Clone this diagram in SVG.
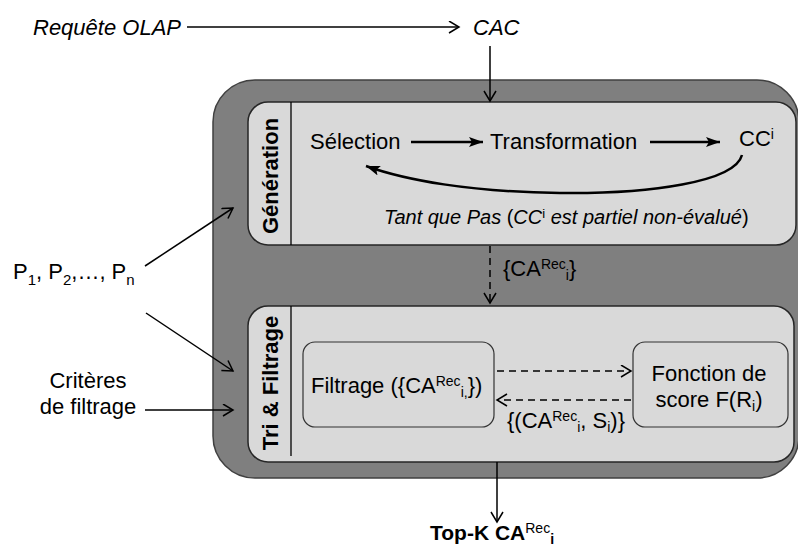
<svg xmlns="http://www.w3.org/2000/svg" width="798" height="546" viewBox="0 0 798 546">
<defs>
<marker id="open" markerUnits="userSpaceOnUse" markerWidth="14" markerHeight="14" refX="11" refY="6.5" orient="auto"><path d="M1,0.5 L11,6.5 L1,12.5" fill="none" stroke="#000" stroke-width="1.5"/></marker>
<marker id="solid" markerUnits="userSpaceOnUse" markerWidth="16" markerHeight="12" refX="14" refY="5" orient="auto"><path d="M0,0 L14,5 L0,10 L3,5 Z" fill="#000"/></marker>
</defs>
<style>
text{font-family:"Liberation Sans",Arial,sans-serif;fill:#000;font-size:22px}
.it{font-style:italic}
.b{font-weight:bold}
.panel{fill:#d9d9d9;stroke:#262626;stroke-width:1.5}
.inner{fill:#d9d9d9;stroke:#333;stroke-width:1.2}
.ln{stroke:#000;stroke-width:1.5;fill:none}
.thick{stroke:#000;stroke-width:2.5;fill:none}
.dash{stroke:#000;stroke-width:1.5;fill:none;stroke-dasharray:7 5}
.sup{font-size:14px}
</style>
<g id="outer">
<rect x="213" y="80" width="586" height="398" rx="42" fill="#7f7f7f" stroke="#404040" stroke-width="1.5"/>
</g>
<g id="generation">
<rect class="panel" x="248" y="102" width="548" height="143" rx="20"/>
<line x1="291" y1="102" x2="291" y2="245" stroke="#000" stroke-width="1.3"/>
<text class="b" text-anchor="middle" transform="translate(278,176) rotate(-90)">Génération</text>
</g>
<g id="tri">
<rect class="panel" x="248" y="306" width="546" height="156" rx="20"/>
<line x1="291" y1="306" x2="291" y2="456" stroke="#000" stroke-width="1.3"/>
<text class="b" text-anchor="middle" transform="translate(278,383) rotate(-90)">Tri &amp; Filtrage</text>
</g>
<g id="requete"><text class="it" x="33" y="35">Requête OLAP</text></g>
<g id="cac"><text class="it" x="473" y="35">CAC</text></g>
<g id="selection"><text x="310" y="149">Sélection</text></g>
<g id="transformation"><text x="490" y="149">Transformation</text></g>
<g id="cci"><text x="739" y="146">CC<tspan class="sup" dy="-7">i</tspan></text></g>
<g id="tantque"><text x="384" y="224" style="font-size:20px"><tspan class="it">Tant que Pas </tspan>(<tspan class="it">CC</tspan><tspan style="font-size:13px" dy="-6">i</tspan><tspan class="it" dy="6"> est partiel non-évalué</tspan>)</text></g>
<g id="params"><text x="13" y="279">P<tspan style="font-size:15px" dy="6">1</tspan><tspan dy="-6">, P</tspan><tspan style="font-size:15px" dy="6">2</tspan><tspan dy="-6">,…, P</tspan><tspan style="font-size:15px" dy="6">n</tspan></text></g>
<g id="criteres"><text x="88" y="388" text-anchor="middle">Critères</text><text x="88" y="414" text-anchor="middle">de filtrage</text></g>
<g id="filtrage">
<rect class="inner" x="303" y="342" width="191" height="85" rx="12"/>
<text x="311" y="393">Filtrage ({CA<tspan class="sup" dy="-7">Rec</tspan><tspan class="sup" dy="11">i,</tspan><tspan dy="-4">})</tspan></text>
</g>
<g id="fonction">
<rect class="inner" x="633" y="342" width="155" height="85" rx="12"/>
<text x="709" y="381" text-anchor="middle">Fonction de</text>
<text x="709" y="407" text-anchor="middle">score F(R<tspan class="sup" dy="4">i</tspan><tspan dy="-4">)</tspan></text>
</g>
<g id="carec"><text x="503" y="276">{CA<tspan class="sup" dy="-7">Rec</tspan><tspan class="sup" dy="11">i</tspan><tspan dy="-4">}</tspan></text></g>
<g id="carecsi"><text x="507" y="428">{(CA<tspan class="sup" dy="-7">Rec</tspan><tspan class="sup" dy="11">i</tspan><tspan dy="-4">, S</tspan><tspan class="sup" dy="4">i</tspan><tspan dy="-4">)}</tspan></text></g>
<g id="topk"><text class="b" x="430" y="540" style="font-size:21px">Top-K CA<tspan class="sup" dy="-7" font-weight="normal">Rec</tspan><tspan class="sup" dy="11">i</tspan></text></g>
<g id="connectors">
<line class="ln" x1="187" y1="27" x2="459" y2="27" marker-end="url(#open)"/>
<line class="ln" x1="490" y1="46" x2="490" y2="101" marker-end="url(#open)"/>
<line class="thick" x1="411" y1="142" x2="483" y2="142" marker-end="url(#solid)"/>
<line class="thick" x1="650" y1="142" x2="720" y2="142" marker-end="url(#solid)"/>
<path class="thick" d="M742,155 C735,182 650,194 560,193 C470,192 405,180 366,166" marker-end="url(#solid)"/>
<line class="ln" x1="145" y1="266" x2="233" y2="208" marker-end="url(#open)"/>
<line class="ln" x1="146" y1="313" x2="233" y2="371" marker-end="url(#open)"/>
<line class="ln" x1="145" y1="410" x2="233" y2="410" marker-end="url(#open)"/>
<line class="dash" x1="490" y1="246" x2="490" y2="303" marker-end="url(#open)"/>
<line class="dash" x1="497" y1="371" x2="631" y2="371" marker-end="url(#open)"/>
<line class="dash" x1="631" y1="400" x2="497" y2="400" marker-end="url(#open)"/>
<line class="ln" x1="497" y1="462" x2="497" y2="522" marker-end="url(#open)"/>
</g>
</svg>
